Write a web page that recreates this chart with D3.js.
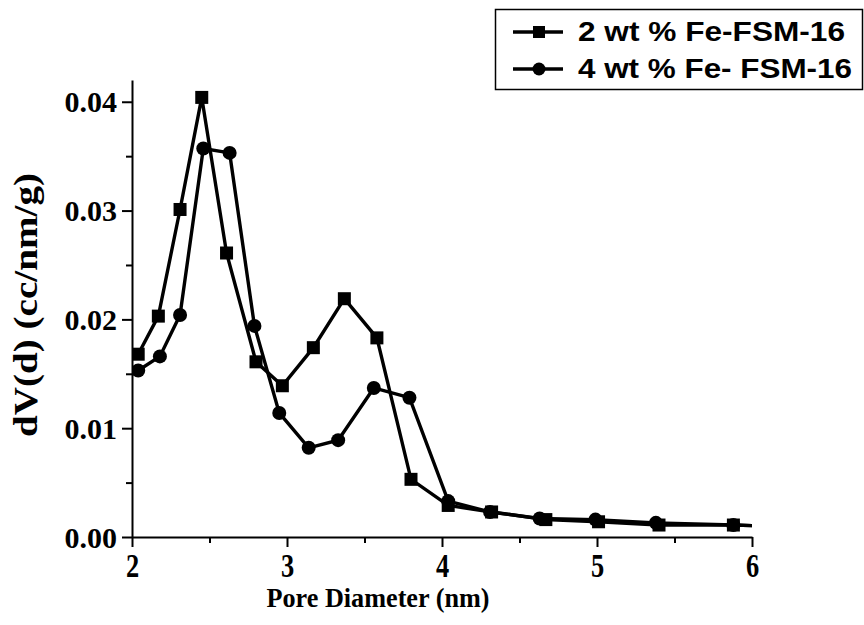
<!DOCTYPE html>
<meta charset="utf-8">
<body style="margin:0;background:#fff">
<script src="https://d3js.org/d3.v7.min.js"></script>
<script>
var width = 864,
    height = 625;

// pore size distribution
var sqX = [2.04, 2.17, 2.31, 2.45, 2.61, 2.80, 2.97, 3.17, 3.37, 3.58, 3.80, 4.04, 4.32, 4.67, 5.01, 5.40, 5.88, 6.10];
var sqY = [0.0168, 0.0203, 0.0301, 0.0404, 0.0261, 0.0161, 0.0139, 0.0174, 0.0219, 0.0183, 0.0053, 0.0029, 0.0023, 0.0016, 0.0014, 0.0011, 0.0011, 0.0010];
var ciX = [2.04, 2.18, 2.31, 2.46, 2.63, 2.79, 2.95, 3.14, 3.33, 3.56, 3.79, 4.04, 4.31, 4.63, 4.99, 5.38, 5.88, 6.10];
var ciY = [0.0153, 0.0166, 0.0204, 0.0357, 0.0353, 0.0194, 0.0114, 0.0082, 0.0089, 0.0137, 0.0128, 0.0033, 0.0023, 0.0017, 0.0016, 0.0013, 0.0011, 0.0010];

var seriesNames = ["2 wt % Fe-FSM-16", "4 wt % Fe- FSM-16"];
var xTicks = [2, 3, 4, 5, 6];
var yTicks = [0, 0.01, 0.02, 0.03, 0.04];

var plotLeft = 132, plotRight = 752, plotTop = 80, plotBottom = 537;

var x = d3.scaleLinear().domain([2, 6]).range([plotLeft, plotRight]);
var y = d3.scaleLinear().domain([0, 0.042]).range([plotBottom, plotTop]);

var svg = d3.select("body").append("svg")
    .attr("width", width)
    .attr("height", height)
    .style("display", "block");

svg.append("defs").append("clipPath").attr("id", "plot")
  .append("rect")
    .attr("x", plotLeft).attr("y", 0)
    .attr("width", plotRight - plotLeft).attr("height", plotBottom);

// minor ticks
svg.append("g")
    .attr("transform", "translate(0," + plotBottom + ")")
    .call(d3.axisBottom(x).tickValues(d3.range(2.5, 6, 1)).tickSize(6).tickFormat(""))
    .call(g => g.select(".domain").remove());
svg.append("g")
    .attr("transform", "translate(" + plotLeft + ",0)")
    .call(d3.axisLeft(y).tickValues([0.005, 0.015, 0.025, 0.035]).tickSize(6).tickFormat(""))
    .call(g => g.select(".domain").remove());

var xAxis = svg.append("g")
    .attr("transform", "translate(0," + plotBottom + ")")
    .call(d3.axisBottom(x).tickValues(xTicks).tickSize(10).tickSizeOuter(0).tickFormat(d3.format("d")));

var yAxis = svg.append("g")
    .attr("transform", "translate(" + plotLeft + ",0)")
    .call(d3.axisLeft(y).tickValues(yTicks).tickSize(10).tickSizeOuter(0).tickFormat(d3.format(".2f")));

svg.selectAll(".tick line, .domain").attr("stroke", "#000").attr("stroke-width", 2);

xAxis.selectAll("text")
    .attr("font-family", "Liberation Serif, Times New Roman, serif")
    .attr("font-weight", "bold")
    .attr("font-size", 33)
    .attr("fill", "#000")
    .attr("dy", 0)
    .attr("y", 40)
    .attr("transform", "scale(0.8,1)");

yAxis.selectAll("text")
    .attr("font-family", "Liberation Serif, Times New Roman, serif")
    .attr("font-weight", "bold")
    .attr("font-size", 30)
    .attr("fill", "#000")
    .attr("dy", 0)
    .attr("y", 10)
    .attr("x", -15);

// axis titles
svg.append("text")
    .attr("x", 378)
    .attr("y", 607)
    .attr("text-anchor", "middle")
    .attr("font-family", "Liberation Serif, Times New Roman, serif")
    .attr("font-weight", "bold")
    .attr("font-size", 27)
    .attr("textLength", 223)
    .attr("lengthAdjust", "spacingAndGlyphs")
    .text("Pore Diameter (nm)");

svg.append("text")
    .attr("transform", "translate(37,305)rotate(-90)")
    .attr("text-anchor", "middle")
    .attr("font-family", "Liberation Serif, Times New Roman, serif")
    .attr("font-weight", "bold")
    .attr("font-size", 33)
    .attr("textLength", 264)
    .attr("lengthAdjust", "spacingAndGlyphs")
    .text("dV(d) (cc/nm/g)");

// series
var plot = svg.append("g").attr("clip-path", "url(#plot)");

var line = d3.line()
    .x(d => x(d[0]))
    .y(d => y(d[1]));

var sq = sqX.map((v, i) => [v, sqY[i]]);
var ci = ciX.map((v, i) => [v, ciY[i]]);

plot.append("path").datum(ci)
    .attr("d", line).attr("fill", "none").attr("stroke", "#000").attr("stroke-width", 3.4);
plot.append("path").datum(sq)
    .attr("d", line).attr("fill", "none").attr("stroke", "#000").attr("stroke-width", 3.4);

var sqSize = 13;
plot.selectAll(".ci").data(ci).enter().append("circle")
    .attr("cx", d => x(d[0]))
    .attr("cy", d => y(d[1]))
    .attr("r", 7);
plot.selectAll(".sq").data(sq).enter().append("rect")
    .attr("x", d => x(d[0]) - sqSize / 2)
    .attr("y", d => y(d[1]) - sqSize / 2)
    .attr("width", sqSize)
    .attr("height", sqSize);

// legend
var legend = svg.append("g");
legend.append("rect")
    .attr("x", 495.5).attr("y", 9.5)
    .attr("width", 367).attr("height", 80)
    .attr("fill", "#fff")
    .attr("stroke", "#000")
    .attr("stroke-width", 1.5);

var rows = [32, 69];
rows.forEach(function(ry, i) {
  legend.append("line")
      .attr("x1", 513).attr("x2", 563)
      .attr("y1", ry).attr("y2", ry)
      .attr("stroke", "#000").attr("stroke-width", 3.4);
  if (i == 0) {
    legend.append("rect")
        .attr("x", 539 - 6).attr("y", ry - 6)
        .attr("width", 12).attr("height", 12);
  } else {
    legend.append("circle").attr("cx", 539).attr("cy", ry).attr("r", 6.5);
  }
  legend.append("text")
      .attr("x", 578)
      .attr("y", ry + 9)
      .attr("font-family", "Liberation Sans, Arial, sans-serif")
      .attr("font-weight", "bold")
      .attr("font-size", 28)
      .attr("textLength", i == 0 ? 267 : 274)
      .attr("lengthAdjust", "spacingAndGlyphs")
      .text(seriesNames[i]);
});
</script>
